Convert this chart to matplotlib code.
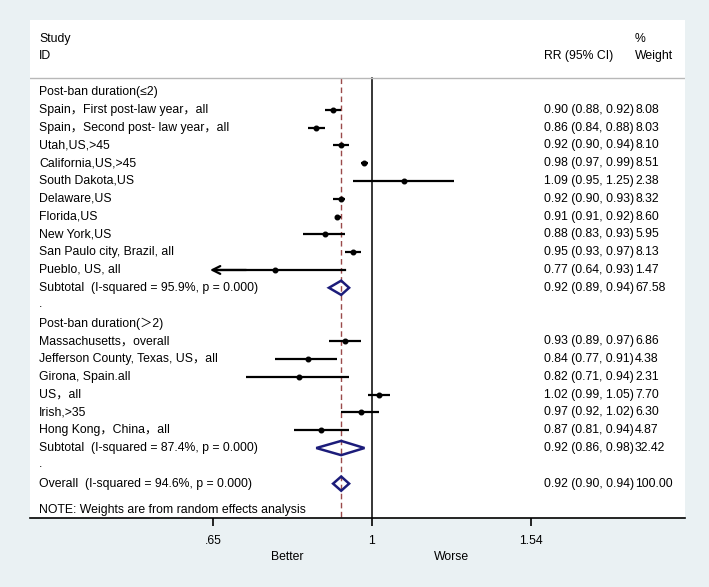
import numpy as np
import matplotlib
matplotlib.use("Agg")
import matplotlib.pyplot as plt
from matplotlib.transforms import blended_transform_factory
from matplotlib.patches import Polygon

plt.rcParams['font.family'] = ['Liberation Sans', 'Noto Sans CJK SC', 'DejaVu Sans']

# ---------------- data ----------------
group1_label = "Post-ban duration(≤2)"
group1_studies = ["Spain，First post-law year，all", "Spain，Second post- law year，all",
                  "Utah,US,>45", "California,US,>45", "South Dakota,US", "Delaware,US",
                  "Florida,US", "New York,US", "San Paulo city, Brazil, all", "Pueblo, US, all"]
group1_rr = [0.90, 0.86, 0.92, 0.98, 1.09, 0.92, 0.91, 0.88, 0.95, 0.77]
group1_lo = [0.88, 0.84, 0.90, 0.97, 0.95, 0.90, 0.91, 0.83, 0.93, 0.64]
group1_hi = [0.92, 0.88, 0.94, 0.99, 1.25, 0.93, 0.92, 0.93, 0.97, 0.93]
group1_w = ["8.08", "8.03", "8.10", "8.51", "2.38", "8.32", "8.60", "5.95", "8.13", "1.47"]
group1_sub = ("Subtotal  (I-squared = 95.9%, p = 0.000)", 0.92, 0.89, 0.94, "67.58")

group2_label = "Post-ban duration(＞2)"
group2_studies = ["Massachusetts，overall", "Jefferson County, Texas, US，all", "Girona, Spain.all",
                  "US，all", "Irish,>35", "Hong Kong，China，all"]
group2_rr = [0.93, 0.84, 0.82, 1.02, 0.97, 0.87]
group2_lo = [0.89, 0.77, 0.71, 0.99, 0.92, 0.81]
group2_hi = [0.97, 0.91, 0.94, 1.05, 1.02, 0.94]
group2_w = ["6.86", "4.38", "2.31", "7.70", "6.30", "4.87"]
group2_sub = ("Subtotal  (I-squared = 87.4%, p = 0.000)", 0.92, 0.86, 0.98, "32.42")

overall = ("Overall  (I-squared = 94.6%, p = 0.000)", 0.92, 0.90, 0.94, "100.00")
note = "NOTE: Weights are from random effects analysis"

xticks = [0.65, 1.0, 1.54]
xticklabels = [".65", "1", "1.54"]
favour_labels = ["Better", "Worse"]
favour_pos = [0.794, 1.24]

# ---------------- layout ----------------
W, H = 709, 587
fig = plt.figure(figsize=(W / 100, H / 100), dpi=100)
bg = '#eaf1f3'
fig.patch.set_facecolor(bg)
px_l, px_r, px_t, px_b = 30, 685, 20, 518
ax = fig.add_axes([px_l / W, 1 - px_b / H, (px_r - px_l) / W, (px_b - px_t) / H])
ax.set_facecolor('white')
ax.set_xscale('log')
ax.set_xlim(0.396, 2.335)
ax.set_ylim(23.93, -4.04)
for s in ['top', 'left', 'right']:
    ax.spines[s].set_visible(False)
ax.spines['bottom'].set_linewidth(1.2)
ax.set_yticks([])
fs = 8.8
ax.set_xticks(xticks)
ax.set_xticklabels(xticklabels, fontsize=fs)
ax.xaxis.set_minor_locator(matplotlib.ticker.NullLocator())
ax.tick_params(axis='x', direction='out', length=6, width=1.2, pad=6)

tr = blended_transform_factory(ax.transAxes, ax.transData)
x_lab = (39 - px_l) / (px_r - px_l)
x_rr = (544 - px_l) / (px_r - px_l)
x_w = (635 - px_l) / (px_r - px_l)

def txt(x, y, s, **kw):
    ax.text(x, y, s, transform=tr, fontsize=fs, va='center', ha='left', color='black', **kw)

# header
txt(x_lab, -3, "Study")
txt(x_lab, -2, "ID")
txt(x_w, -3, "%")
txt(x_rr, -2, "RR (95% CI)")
txt(x_w, -2, "Weight")
sep_y = -0.79
ax.axhline(sep_y, color='#b8b8b8', lw=1.0)

# reference lines
ybot = 23.93
ax.plot([1, 1], [sep_y, ybot], color='black', lw=1.1, zorder=1)
ax.plot([overall[1]] * 2, [sep_y, ybot], color='#9a4a4a', lw=1.0,
        dashes=(4, 2.5), zorder=1)

def fmt(r, l, h):
    return f"{r:.2f} ({l:.2f}, {h:.2f})"

def study_row(y, name, r, l, h, w):
    txt(x_lab, y, name)
    txt(x_rr, y, fmt(r, l, h))
    txt(x_w, y, w)
    if l < min(xticks):
        ax.plot([l * 1.02, h], [y, y], color='black', lw=1.6, zorder=3)
        ax.annotate("", xy=(l, y), xytext=(l * 1.12, y),
                    arrowprops=dict(arrowstyle='->', color='black', lw=1.6,
                                    mutation_scale=14), zorder=3)
    else:
        ax.plot([l, h], [y, y], color='black', lw=1.6, zorder=3, solid_capstyle='butt')
    ax.plot([r], [y], 'o', color='black', ms=3.3, zorder=4)

def diamond_row(y, sub):
    name, r, l, h, w = sub
    txt(x_lab, y, name)
    txt(x_rr, y, fmt(r, l, h))
    txt(x_w, y, w)
    hh = 0.4
    poly = Polygon([(l, y), (r, y - hh), (h, y), (r, y + hh)], closed=True,
                   fill=False, edgecolor='#1c1c7a', lw=1.8, zorder=4)
    ax.add_patch(poly)

row = 0
txt(x_lab, row, group1_label)
row += 1
for i in range(len(group1_studies)):
    study_row(row, group1_studies[i], group1_rr[i], group1_lo[i], group1_hi[i], group1_w[i])
    row += 1
diamond_row(row, group1_sub)
row += 1
txt(x_lab, row - 0.1, ".")
row += 1
txt(x_lab, row, group2_label)
row += 1
for i in range(len(group2_studies)):
    study_row(row, group2_studies[i], group2_rr[i], group2_lo[i], group2_hi[i], group2_w[i])
    row += 1
diamond_row(row, group2_sub)
row += 1
txt(x_lab, row - 0.1, ".")
row += 1
diamond_row(row, overall)
row += 1.5
txt(x_lab, row, note)

trf = blended_transform_factory(ax.transData, ax.transAxes)
for lab, p in zip(favour_labels, favour_pos):
    ax.text(p, -0.078, lab, transform=trf, fontsize=fs, ha='center', va='center')

fig.savefig("out.png", dpi=100, facecolor=bg)
